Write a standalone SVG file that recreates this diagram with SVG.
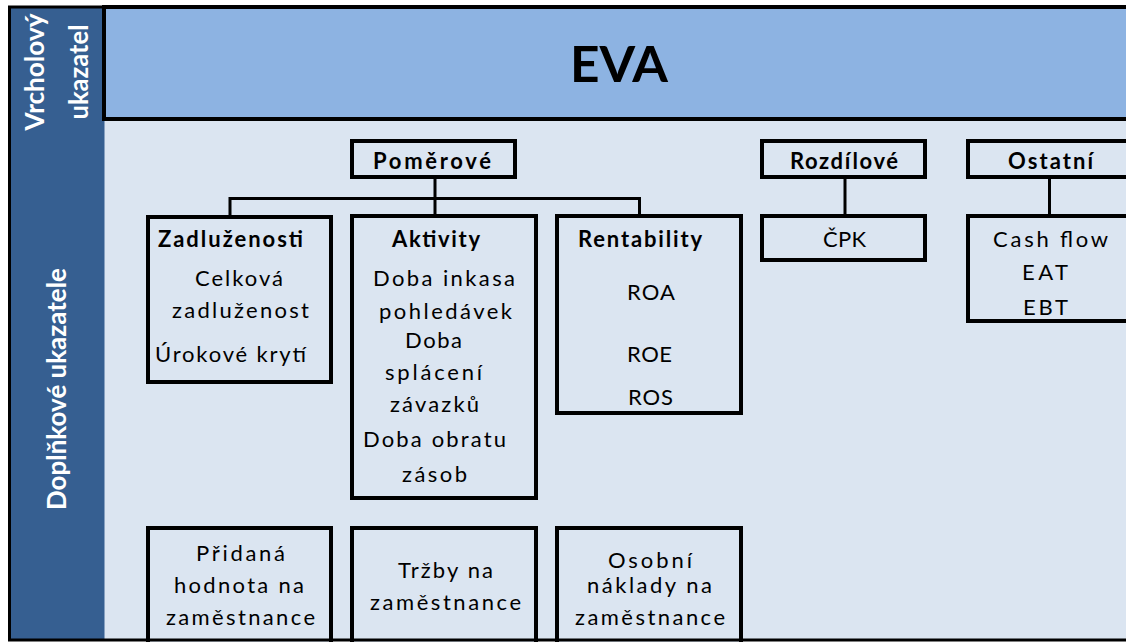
<svg xmlns="http://www.w3.org/2000/svg" width="1126" height="642" viewBox="0 0 1126 642">
  <style>
    .panel { fill: #DBE5F1; }
    .side { fill: #365F91; }
    .band { fill: #8DB3E2; stroke: #000; stroke-width: 4; }
    .frame { fill: none; stroke: #000; stroke-width: 3; }
    .box { fill: #DBE5F1; stroke: #000; stroke-width: 4; }
    .link { fill: none; stroke: #000; stroke-width: 3; }
    .t { font-family: Lato, "Open Sans", "Liberation Sans", sans-serif; font-size: 22px; fill: #000; }
    .b { font-weight: bold; }
    .vt { font-family: Lato, "Open Sans", "Liberation Sans", sans-serif; font-size: 26px; font-weight: bold; fill: #fff; }
    .title { font-family: Lato, "Open Sans", "Liberation Sans", sans-serif; font-size: 49px; font-weight: bold; fill: #000; }
  </style>

  <!-- background areas -->
  <rect class="panel" x="9.5" y="7" width="1130" height="633"/>
  <rect class="side" x="9.5" y="7" width="95" height="633"/>

  <!-- sidebar captions -->
  <g id="label-top">
    <text class="vt" transform="translate(44,72) rotate(-90)" text-anchor="middle" textLength="117" lengthAdjust="spacingAndGlyphs">Vrcholový</text>
    <text class="vt" transform="translate(88,72) rotate(-90)" text-anchor="middle" textLength="95" lengthAdjust="spacingAndGlyphs">ukazatel</text>
  </g>
  <g id="label-side">
    <text class="vt" transform="translate(66,389) rotate(-90)" text-anchor="middle" textLength="242" lengthAdjust="spacingAndGlyphs">Doplňkové ukazatele</text>
  </g>

  <!-- top indicator band -->
  <g id="eva">
    <rect class="band" x="104" y="7" width="1030" height="112"/>
    <text class="title" x="570" y="82" textLength="98" lengthAdjust="spacingAndGlyphs">EVA</text>
  </g>

  <!-- connectors -->
  <g id="connectors">
    <path class="link" d="M435 179 V198.5 M230 198.5 H639.5 M230 197 V215 M435 198 V215 M639.5 197 V215"/>
    <path class="link" d="M845 179 V215"/>
    <path class="link" d="M1049.5 179 V215"/>
  </g>

  <!-- category headers -->
  <g id="pomerove">
    <rect class="box" x="352" y="141" width="163" height="36"/>
    <text class="t b" x="373" y="169" textLength="118">Poměrové</text>
  </g>
  <g id="rozdilove">
    <rect class="box" x="762" y="141" width="163" height="36"/>
    <text class="t b" x="790" y="169" textLength="108">Rozdílové</text>
  </g>
  <g id="ostatni">
    <rect class="box" x="968" y="141" width="200" height="36"/>
    <text class="t b" x="1008" y="169" textLength="85">Ostatní</text>
  </g>

  <!-- ratio groups -->
  <g id="zadluzenosti">
    <rect class="box" x="148" y="217" width="183" height="165"/>
    <text class="t b" x="158" y="247" textLength="145">Zadluženosti</text>
    <text class="t" x="195" y="286" textLength="88">Celková</text>
    <text class="t" x="172" y="318" textLength="137">zadluženost</text>
    <text class="t" x="155" y="362" textLength="151">Úrokové krytí</text>
  </g>
  <g id="aktivity">
    <rect class="box" x="352" y="216" width="184" height="282"/>
    <text class="t b" x="392" y="247" textLength="88">Aktivity</text>
    <text class="t" x="373" y="286" textLength="142">Doba inkasa</text>
    <text class="t" x="379" y="319" textLength="133">pohledávek</text>
    <text class="t" x="405" y="348" textLength="57">Doba</text>
    <text class="t" x="385" y="380" textLength="97">splácení</text>
    <text class="t" x="390" y="412" textLength="89">závazků</text>
    <text class="t" x="363" y="447" textLength="143">Doba obratu</text>
    <text class="t" x="402" y="482" textLength="65">zásob</text>
  </g>
  <g id="rentability">
    <rect class="box" x="557" y="216" width="184" height="197"/>
    <text class="t b" x="578" y="247" textLength="124">Rentability</text>
    <text class="t" x="627" y="300" textLength="48">ROA</text>
    <text class="t" x="627" y="362" textLength="45">ROE</text>
    <text class="t" x="628" y="405" textLength="45">ROS</text>
  </g>
  <g id="cpk">
    <rect class="box" x="762" y="216" width="163" height="44"/>
    <text class="t" x="823" y="247" textLength="43">ČPK</text>
  </g>
  <g id="ostatni-list">
    <rect class="box" x="968" y="216" width="200" height="105"/>
    <text class="t" x="993" y="247" textLength="115">Cash flow</text>
    <text class="t" x="1022" y="280" textLength="46">EAT</text>
    <text class="t" x="1023" y="315" textLength="45">EBT</text>
  </g>

  <!-- per-employee indicators -->
  <g id="pridana-hodnota">
    <rect class="box" x="148" y="528" width="183" height="130"/>
    <text class="t" x="196" y="561" textLength="89">Přidaná</text>
    <text class="t" x="174" y="593" textLength="130">hodnota na</text>
    <text class="t" x="166" y="625" textLength="149">zaměstnance</text>
  </g>
  <g id="trzby">
    <rect class="box" x="352" y="528" width="184" height="130"/>
    <text class="t" x="398" y="578" textLength="95">Tržby na</text>
    <text class="t" x="370" y="610" textLength="151">zaměstnance</text>
  </g>
  <g id="osobni-naklady">
    <rect class="box" x="557" y="528" width="184" height="130"/>
    <text class="t" x="608" y="568" textLength="84">Osobní</text>
    <text class="t" x="587" y="593" textLength="125">náklady na</text>
    <text class="t" x="575" y="625" textLength="150">zaměstnance</text>
  </g>

  <!-- outer frame -->
  <rect class="frame" x="9.5" y="7" width="1130" height="633"/>
</svg>
